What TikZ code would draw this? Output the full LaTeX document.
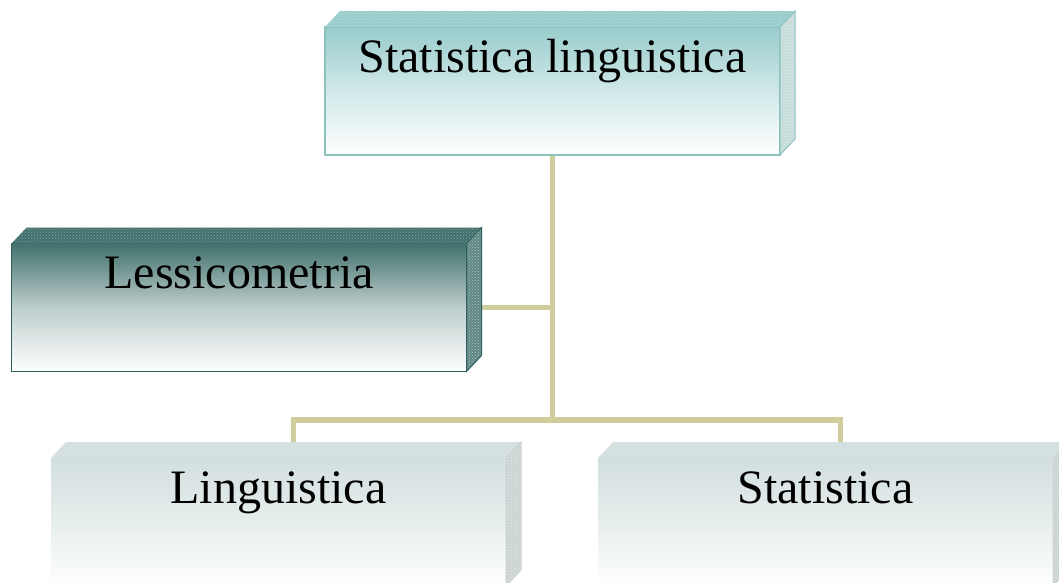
\documentclass[tikz,border=0pt]{standalone}
\usepackage{fontspec}
\setmainfont{Liberation Serif}
\usetikzlibrary{patterns,backgrounds}

\definecolor{tealtop}{HTML}{99CCCC}
\definecolor{tealedge}{HTML}{8CC2BE}
\definecolor{tealside}{HTML}{C4DCDA}
\definecolor{darkteal}{HTML}{42716D}
\definecolor{darkedge}{HTML}{2F625E}
\definecolor{darkside}{HTML}{5F8783}
\definecolor{greytop}{HTML}{D3DFDF}
\definecolor{greyside}{HTML}{CBD3D3}
\definecolor{linkcol}{HTML}{CFCD9B}

\tikzset{
  box/.style={rectangle, inner sep=0pt, outer sep=0pt, minimum width=455pt,
    text height=45pt, text depth=83pt, font=\fontsize{48}{58}\selectfont},
  link/.style={draw=linkcol, line width=5.5pt},
}

% top and side faces of a box node: #1 node, #2 top colour, #3 side colour, #4 edge colour
\newcommand{\boxfaces}[4]{
  \fill[#2] (#1.north west) -- ++(15,-16) -- ([shift={(15,-16)}]#1.north east) -- (#1.north east) -- cycle;
  \fill[pattern=crosshatch dots, pattern color=white!35!#2] (#1.north west) -- ++(15,-16) -- ([shift={(15,-16)}]#1.north east) -- (#1.north east) -- cycle;
  \fill[#3] (#1.north east) -- ++(15,-16) -- ([shift={(15,-16)}]#1.south east) -- (#1.south east) -- cycle;
  \filldraw[draw=#4, line width=1pt, pattern=crosshatch dots, pattern color=white!55!#3] (#1.north east) -- ++(15,-16) -- ([shift={(15,-16)}]#1.south east) -- (#1.south east) -- cycle;
}

\begin{document}
\begin{tikzpicture}[x=1pt, y=-1pt]
    \useasboundingbox (0,0) rectangle (1059,582);

    \node[box, draw=tealedge, line width=1.2pt, top color=tealtop, bottom color=white, middle color=tealtop!45!white] (stat) at (552.5,91) {Statistica linguistica};
    \node[box, draw=darkedge, line width=1.2pt, top color=darkteal, bottom color=white, middle color=darkteal!35!white] (lex) at (239,307.5) {Lessicometria};
    \node[box, top color=greytop, bottom color=white, middle color=greytop!55!white] (ling) at (278.5,522) {Linguistica};
    \node[box, top color=greytop, bottom color=white, middle color=greytop!55!white] (stats) at (825.5,522) {Statistica};

    \boxfaces{stat}{tealtop}{tealside}{tealedge}
    \boxfaces{lex}{darkteal}{darkside}{darkedge}
    \boxfaces{ling}{greytop}{greyside}{greyside}
    \boxfaces{stats}{greytop}{greyside}{greyside}

    \coordinate (fork) at (552.5,420);
    \coordinate (lingtop) at ([shift={(15,-15)}]ling.north);
    \coordinate (statstop) at ([shift={(15,-15)}]stats.north);

    \begin{scope}[on background layer]
        \draw[link] (stat.south) -- (fork);
        \draw[link] (lingtop) |- (fork) -| (statstop);
        \draw[link] (lex.east) -- (lex.east -| fork); % branch
    \end{scope}
\end{tikzpicture}
\end{document}
